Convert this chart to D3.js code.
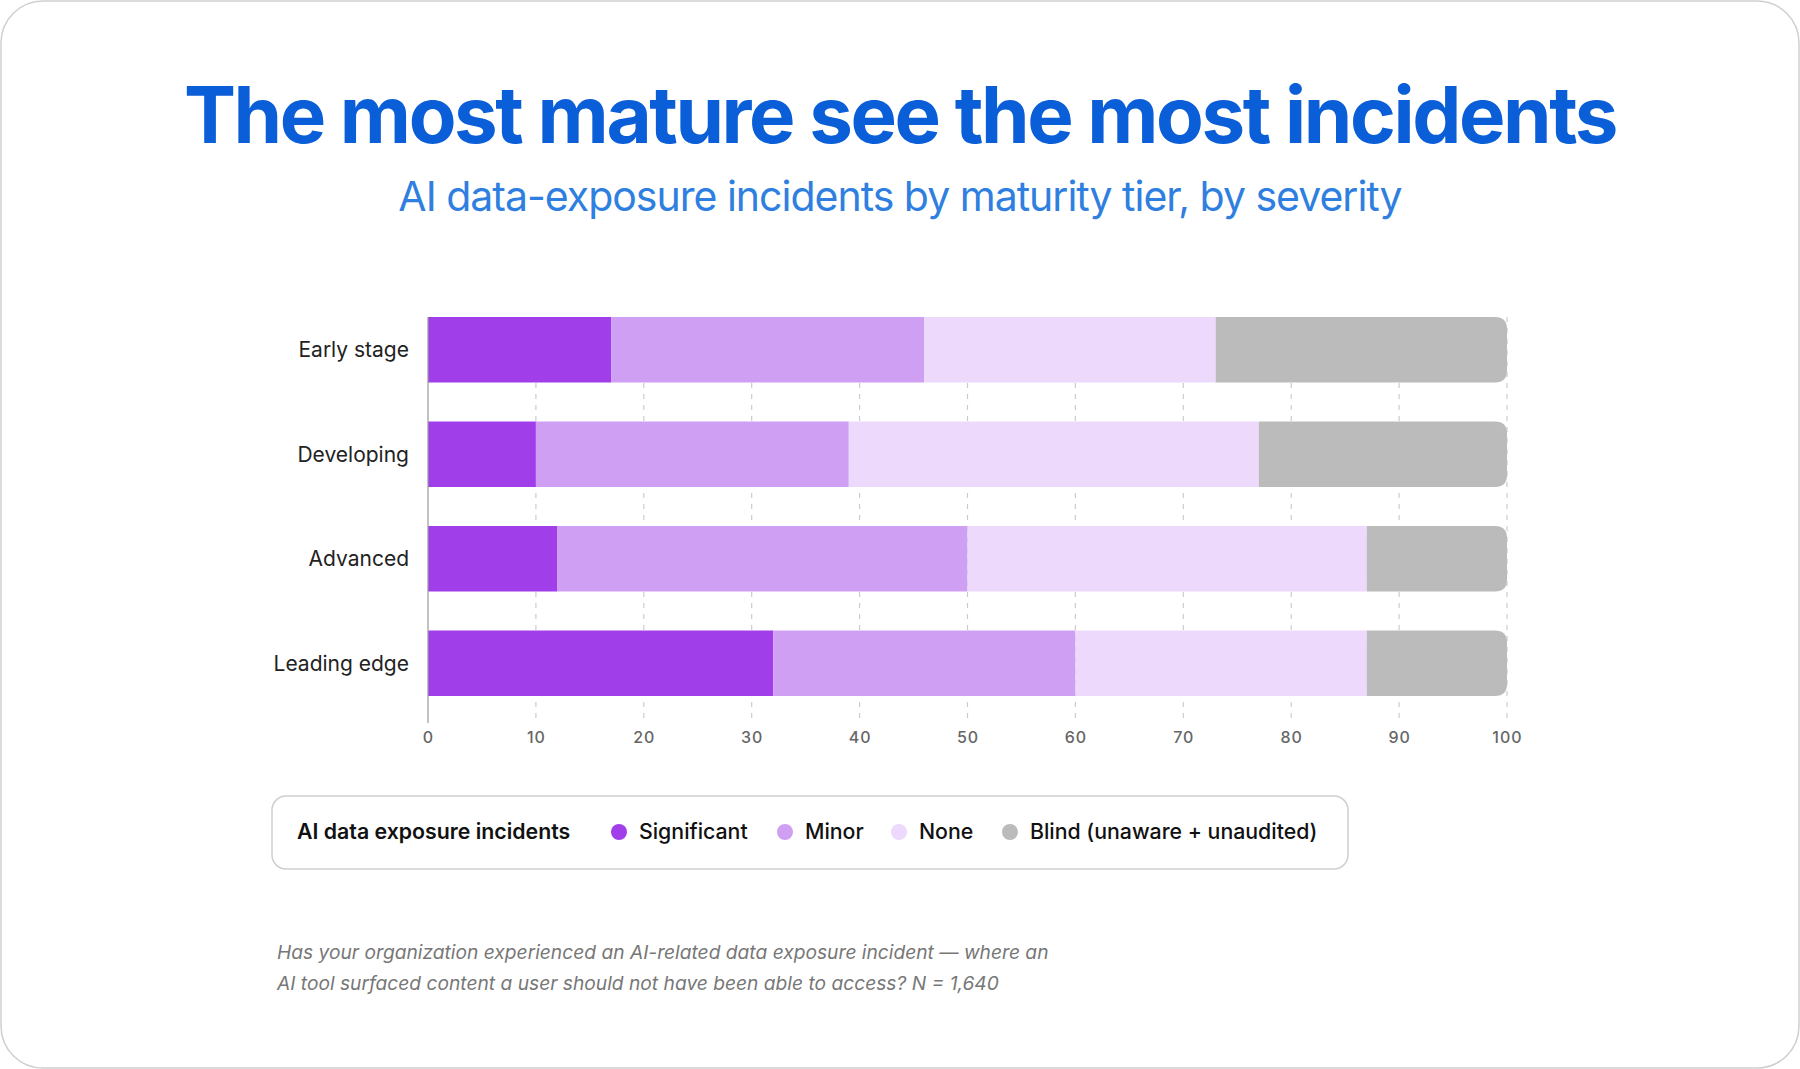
<!DOCTYPE html>
<html>
<head>
<meta charset="utf-8">
<script src="https://cdn.jsdelivr.net/npm/d3@7"></script>
<style>
  html, body { margin: 0; padding: 0; background: #fff; }
  svg { display: block; font-family: Inter, "Noto Sans", sans-serif; }
</style>
</head>
<body>
<div id="chart"></div>
<script>
/* data */
const tiers = ['Early stage', 'Developing', 'Advanced', 'Leading edge'];
const severities = ['Significant', 'Minor', 'None', 'Blind (unaware + unaudited)'];
const significant = [17, 10, 12, 32];
const minor = [29, 29, 38, 28];
const none = [27, 38, 37, 27];
const blind = [27, 23, 13, 13];
const xTicks = [0, 10, 20, 30, 40, 50, 60, 70, 80, 90, 100];

const colors = ['#a03eea', '#cf9ff3', '#ecd9fb', '#bbbbbb'];

const width = 1800
const height = 1069
const margin = { left: 428, right: 293, top: 317 }
const step = 104.5
const barH = 65.5
const plotBottom = 723

// build rows for the stack
const rows = tiers.map((t, i) => ({
  tier: t,
  Significant: significant[i],
  Minor: minor[i],
  None: none[i],
  'Blind (unaware + unaudited)': blind[i]
}))

const svg = d3.select('#chart')
  .append('svg')
  .attr('width', width)
  .attr('height', height)

/* card outline */
svg.append('rect')
  .attr('x', 1).attr('y', 1)
  .attr('width', width - 2).attr('height', height - 2)
  .attr('rx', 42)
  .attr('fill', '#fff')
  .attr('stroke', '#cfcfcf')
  .attr('stroke-width', 1.5)

/* titles */
svg.append('text')
  .attr('x', 900).attr('y', 143)
  .attr('text-anchor', 'middle')
  .attr('font-size', 78)
  .attr('font-weight', 700)
  .attr('letter-spacing', -2.4)
  .attr('fill', '#0a5ed7')
  .text('The most mature see the most incidents')

svg.append('text')
  .attr('x', 900).attr('y', 211)
  .attr('text-anchor', 'middle')
  .attr('font-size', 41)
  .attr('font-weight', 400)
  .attr('letter-spacing', -1)
  .attr('fill', '#2f7fe0')
  .text('AI data-exposure incidents by maturity tier, by severity')

const x = d3.scaleLinear()
  .domain([0, 100])
  .range([margin.left, width - margin.right])

const y = d3.scaleBand()
  .domain(tiers)
  .range([margin.top, margin.top + 3 * step + barH])
  .paddingInner(1 - barH / step)
  .paddingOuter(0)

/* dashed grid */
svg.append('g')
  .selectAll('line')
  .data(xTicks.filter(d => d > 0))
  .enter()
  .append('line')
  .attr('x1', d => x(d)).attr('x2', d => x(d))
  .attr('y1', margin.top).attr('y2', plotBottom)
  .attr('stroke', '#cccccc')
  .attr('stroke-width', 1.2)
  .attr('stroke-dasharray', '5,6')

/* stacked bars */
const stack = d3.stack().keys(severities)
const series = stack(rows)
const barR = 12

series.forEach((s, si) => {
  svg.append('g')
    .attr('fill', colors[si])
    .selectAll('path')
    .data(s)
    .enter()
    .append('path')
    .attr('d', d => {
      const x0 = x(d[0]), x1 = x(d[1])
      const y0 = y(d.data.tier), h = y.bandwidth()
      if (si < severities.length - 1) {
        return `M${x0},${y0}H${x1}V${y0 + h}H${x0}Z`
      }
      // last segment gets rounded right end
      return `M${x0},${y0}H${x1 - barR}Q${x1},${y0} ${x1},${y0 + barR}` +
        `V${y0 + h - barR}Q${x1},${y0 + h} ${x1 - barR},${y0 + h}H${x0}Z`
    })
})

/* left axis line */
svg.append('line')
  .attr('x1', x(0)).attr('x2', x(0))
  .attr('y1', margin.top).attr('y2', plotBottom)
  .attr('stroke', '#999')
  .attr('stroke-width', 1.2)

/* category labels */
svg.append('g')
  .selectAll('text')
  .data(tiers)
  .enter()
  .append('text')
  .attr('x', x(0) - 19)
  .attr('y', d => y(d) + y.bandwidth() / 2)
  .attr('dy', '0.35em')
  .attr('text-anchor', 'end')
  .attr('font-size', 21)
  .attr('fill', '#222')
  .text(d => d)

/* bottom axis labels */
const xAxis = d3.axisBottom(x).tickValues(xTicks).tickSize(0).tickPadding(0)
const ax = svg.append('g')
  .attr('transform', `translate(0, ${plotBottom})`)
  .call(xAxis)
ax.select('.domain').remove()
ax.selectAll('text')
  .attr('y', 20)
  .attr('dy', null)
  .attr('font-family', 'Inter, sans-serif')
  .attr('font-size', 16)
  .attr('font-weight', 500)
  .attr('letter-spacing', 1)
  .attr('fill', '#666')

/* legend */
const lg = svg.append('g')
lg.append('rect')
  .attr('x', 272).attr('y', 796)
  .attr('width', 1076).attr('height', 73)
  .attr('rx', 14)
  .attr('fill', '#fff')
  .attr('stroke', '#cfcfcf')
  .attr('stroke-width', 1.5)

lg.append('text')
  .attr('x', 297).attr('y', 832)
  .attr('dy', '0.35em')
  .attr('font-size', 21.3)
  .attr('font-weight', 600)
  .attr('fill', '#111')
  .text('AI data exposure incidents')

const legendX = [619, 785, 899, 1010]
severities.forEach((s, i) => {
  lg.append('circle')
    .attr('cx', legendX[i]).attr('cy', 832)
    .attr('r', 8)
    .attr('fill', colors[i])
  lg.append('text')
    .attr('x', legendX[i] + 20).attr('y', 832)
    .attr('dy', '0.35em')
    .attr('font-size', 21.3)
    .attr('font-weight', 500)
    .attr('fill', '#111')
    .text(s)
})

/* footnote */
const foot = [
  'Has your organization experienced an AI-related data exposure incident \u2014 where an',
  'AI tool surfaced content a user should not have been able to access? N = 1,640'
]
svg.append('g')
  .selectAll('text')
  .data(foot)
  .enter()
  .append('text')
  .attr('x', 277)
  .attr('y', (d, i) => 959 + i * 31)
  .attr('font-size', 19.2)
  .attr('font-style', 'italic')
  .attr('fill', '#777')
  .text(d => d)
</script>
</body>
</html>
